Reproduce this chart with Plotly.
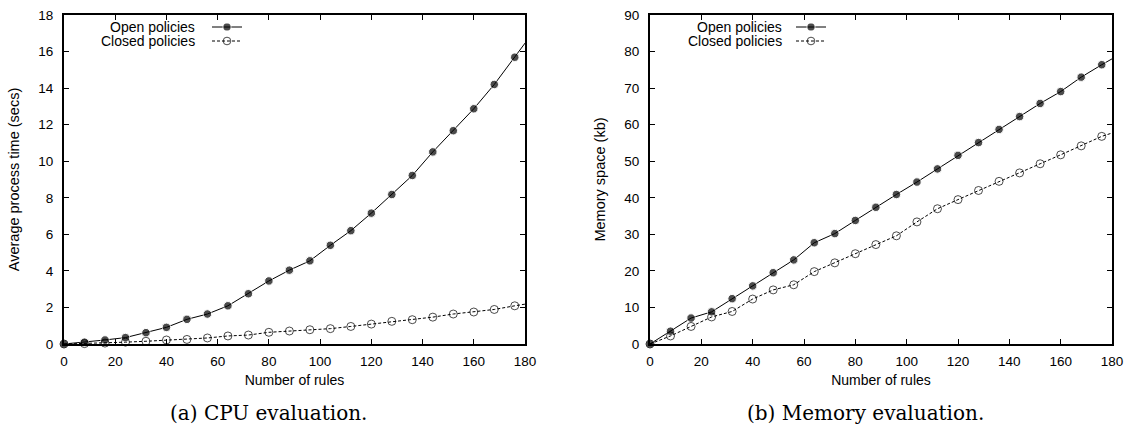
import plotly.graph_objects as go

# ---------------- data ----------------
rules = [0, 8, 16, 24, 32, 40, 48, 56, 64, 72, 80, 88, 96, 104, 112, 120,
         128, 136, 144, 152, 160, 168, 176, 184]

cpu_open = [0.0, 0.10, 0.22, 0.35, 0.62, 0.91, 1.35, 1.64, 2.09, 2.75, 3.45,
            4.04, 4.55, 5.40, 6.20, 7.16, 8.18, 9.22, 10.51, 11.67, 12.87,
            14.20, 15.69, 17.21]
cpu_closed = [0.0, 0.02, 0.05, 0.10, 0.15, 0.22, 0.25, 0.33, 0.44, 0.49, 0.64,
              0.71, 0.78, 0.84, 0.96, 1.09, 1.24, 1.33, 1.47, 1.64, 1.75,
              1.89, 2.09, 2.27]

mem_open = [0.0, 3.5, 7.1, 8.8, 12.4, 15.9, 19.5, 23.0, 27.7, 30.2, 33.8,
            37.4, 40.9, 44.3, 47.9, 51.6, 55.1, 58.7, 62.2, 65.8, 69.05,
            73.0, 76.4, 79.6]
mem_closed = [0.0, 2.2, 4.8, 7.4, 8.9, 12.3, 14.8, 16.2, 19.8, 22.2, 24.7,
              27.2, 29.6, 33.4, 37.0, 39.5, 42.0, 44.5, 46.8, 49.3, 51.75,
              54.2, 56.8, 58.6]

series_names = ["Open policies", "Closed policies"]
x_title = "Number of rules"
y_title_cpu = "Average process time (secs)"
y_title_mem = "Memory space (kb)"
captions = ["(a) CPU evaluation.", "(b) Memory evaluation."]

x_ticks = [0, 20, 40, 60, 80, 100, 120, 140, 160, 180]
cpu_ticks = [0, 2, 4, 6, 8, 10, 12, 14, 16, 18]
mem_ticks = [0, 10, 20, 30, 40, 50, 60, 70, 80, 90]

# ---------------- layout geometry ----------------
W, H = 1132, 430
def px(x):
    return x / W
def py(y):
    return (H - y) / H

FONT = "Liberation Sans, Arial, sans-serif"
SERIF = "DejaVu Serif, Liberation Serif, serif"

# marker sizes: last point lies beyond the axis end (only its line is visible)
msize_fill = [8.5] * (len(rules) - 1) + [0]
msize_open = [8] * (len(rules) - 1) + [0]

fig = go.Figure()

def add_pair(xa, ya, yo, yc, leg_open, leg_closed):
    fig.add_trace(go.Scatter(
        x=rules, y=yo, mode="lines+markers", name=" ",
        line=dict(color="black", width=1),
        marker=dict(symbol="circle", size=msize_fill, color="black"),
        cliponaxis=False, xaxis=xa, yaxis=ya, legend=leg_open, showlegend=True))
    fig.add_trace(go.Scatter(
        x=rules, y=yc, mode="lines+markers", name=" ",
        line=dict(color="black", width=1, dash="3px,2px"),
        marker=dict(symbol="circle-open", size=msize_open, color="black",
                    line=dict(width=1, color="black")),
        cliponaxis=False, xaxis=xa, yaxis=ya, legend=leg_closed, showlegend=True))

add_pair("x", "y", cpu_open, cpu_closed, "legend", "legend3")
add_pair("x2", "y2", mem_open, mem_closed, "legend2", "legend4")

axis_common = dict(
    showline=True, linecolor="black", linewidth=2, mirror="allticks",
    ticks="inside", ticklen=5, tickwidth=1, tickcolor="black",
    showgrid=False, zeroline=False, automargin=False,
    tickfont=dict(family=FONT, size=13.5, color="black"),
)

ydom = [py(344), py(15)]

def leg(xpix, ypix):
    return dict(x=px(xpix), y=py(ypix), xanchor="left", yanchor="middle",
                bgcolor="rgba(0,0,0,0)", borderwidth=0,
                font=dict(size=8), tracegroupgap=0, itemwidth=30)

fig.update_layout(
    width=W, height=H,
    margin=dict(l=0, r=0, t=0, b=0),
    paper_bgcolor="white", plot_bgcolor="white",
    font=dict(family=FONT, size=14, color="black"),
    showlegend=True,
    xaxis=dict(domain=[px(64), px(525)], range=[0, 180], tickvals=x_ticks,
               anchor="y", ticklabelstandoff=4,
               title=dict(text=x_title, standoff=7,
                          font=dict(family=FONT, size=14)),
               **axis_common),
    yaxis=dict(domain=ydom, range=[0, 18], tickvals=cpu_ticks, anchor="x",
               ticklabelstandoff=6,
               title=dict(text=y_title_cpu, standoff=15,
                          font=dict(family=FONT, size=14.5)),
               **axis_common),
    xaxis2=dict(domain=[px(650), px(1112)], range=[0, 180], tickvals=x_ticks,
                anchor="y2", ticklabelstandoff=4,
                title=dict(text=x_title, standoff=7,
                           font=dict(family=FONT, size=14)),
                **axis_common),
    yaxis2=dict(domain=ydom, range=[0, 90], tickvals=mem_ticks, anchor="x2",
                ticklabelstandoff=6,
                title=dict(text=y_title_mem, standoff=15,
                           font=dict(family=FONT, size=14.5)),
                **axis_common),
    legend=leg(207, 27),
    legend3=leg(207, 41),
    legend2=leg(791, 27),
    legend4=leg(791, 41),
)

annotations = []
# legend texts (to the left of the legend keys, gnuplot style)
for xr in [px(197), px(784)]:
    for name, yy in zip(series_names, [27, 41]):
        annotations.append(dict(
            text=name, x=xr, y=py(yy), xref="paper", yref="paper",
            xanchor="right", yanchor="middle", showarrow=False,
            font=dict(family=FONT, size=14, color="black")))
# captions
for cap, cx in zip(captions, [268, 865]):
    annotations.append(dict(
        text=cap, x=px(cx), y=py(413), xref="paper", yref="paper",
        xanchor="center", yanchor="middle", showarrow=False,
        font=dict(family=SERIF, size=20, color="black")))
fig.update_layout(annotations=annotations)

fig.write_html("out.html",
               config={"displayModeBar": False},
               post_script="document.body.style.margin='0px';"
                           "document.body.style.overflow='hidden';")
